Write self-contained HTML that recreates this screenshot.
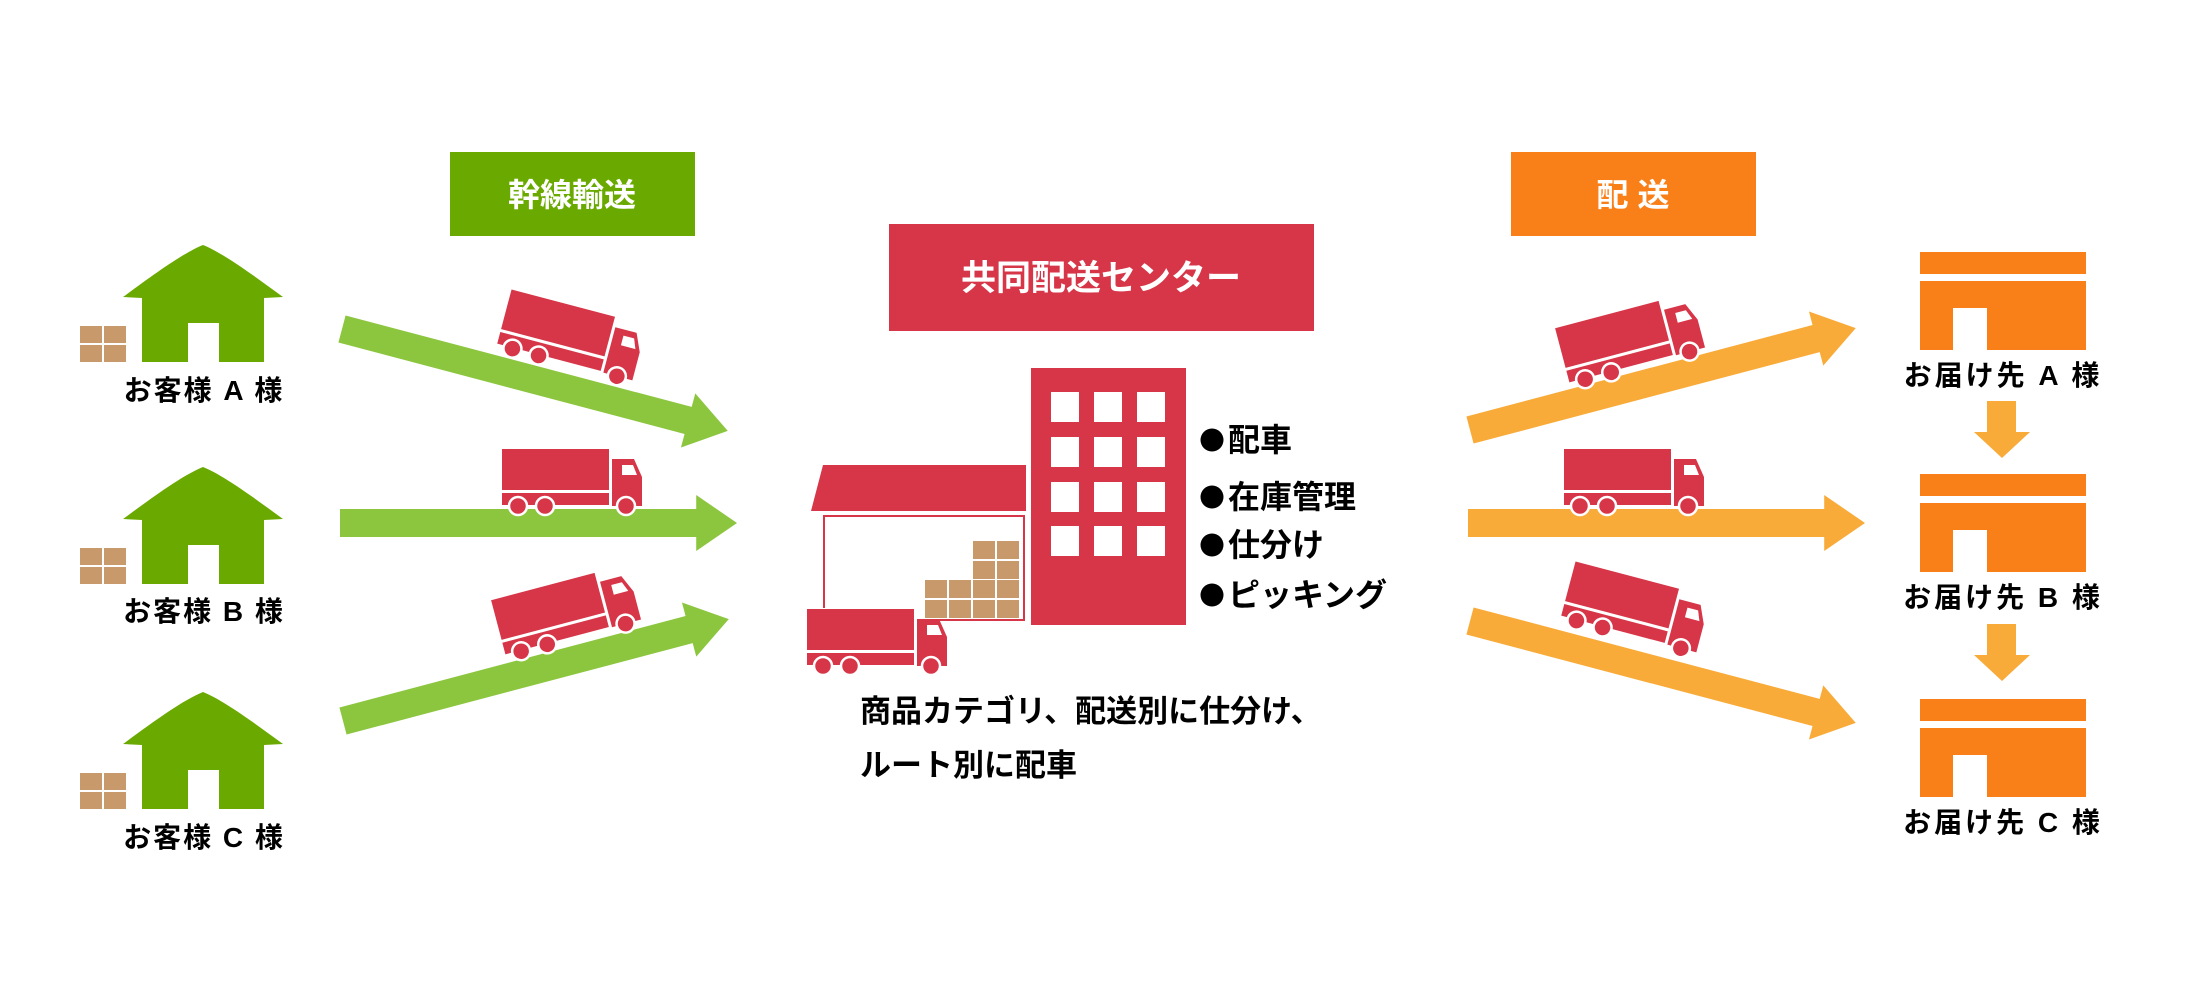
<!DOCTYPE html>
<html><head><meta charset="utf-8"><style>
html,body{margin:0;padding:0;background:#fff;}
svg{display:block;}
text{font-family:"Liberation Sans","Noto Sans CJK JP",sans-serif;font-weight:bold;}
</style></head><body>
<svg width="2200" height="1000" viewBox="0 0 2200 1000" xmlns="http://www.w3.org/2000/svg">
<defs>
<g id="truck">
  <rect x="0" y="0" width="107" height="41" fill="#d63648"/>
  <rect x="0" y="44" width="107" height="12" fill="#d63648"/>
  <path d="M110 10 H132 L140 28 V57 H110 Z" fill="#d63648"/>
  <path d="M120 16 H131 L135 26 H120 Z" fill="#fff"/>
  <circle cx="16" cy="57" r="9" fill="#d63648" stroke="#fff" stroke-width="2.5"/>
  <circle cx="43" cy="57" r="9" fill="#d63648" stroke="#fff" stroke-width="2.5"/>
  <circle cx="124" cy="57" r="9" fill="#d63648" stroke="#fff" stroke-width="2.5"/>
</g>
<g id="house">
  <path d="M80 0 C100 8 130 30 160 52 L141 53 V117 H96 V78 H65 V117 H19 V53 L0 52 C30 30 60 8 80 0 Z" fill="#6aaa00"/>
  <g fill="#c8996a">
    <rect x="-43" y="81" width="22" height="17"/><rect x="-19" y="81" width="22" height="17"/>
    <rect x="-43" y="100" width="22" height="17"/><rect x="-19" y="100" width="22" height="17"/>
  </g>
</g>
<g id="dest">
  <rect x="0" y="0" width="166" height="22" fill="#f98019"/>
  <path d="M0 29 H166 V98 H67 V56 H33 V98 H0 Z" fill="#f98019"/>
</g>
<g id="ga"><path d="M0 -14 H358 V-28 L399 0 L358 28 V14 H0 Z" fill="#8cc63f"/></g>
<g id="oa"><path d="M0 -14 H358 V-28 L399 0 L358 28 V14 H0 Z" fill="#f9ab3a"/></g>
</defs>

<!-- header boxes -->
<rect x="450" y="152" width="245" height="84" fill="#6aaa00"/>
<text x="572" y="206" font-size="32" fill="#fff" text-anchor="middle">幹線輸送</text>
<rect x="889" y="224" width="425" height="107" fill="#d63648"/>
<text x="1101" y="290" font-size="35" fill="#fff" text-anchor="middle">共同配送センター</text>
<rect x="1511" y="152" width="245" height="84" fill="#f98019"/>
<text x="1633" y="206" font-size="32" fill="#fff" text-anchor="middle">配 送</text>

<!-- houses -->
<use href="#house" x="123" y="245"/>
<use href="#house" x="123" y="467"/>
<use href="#house" x="123" y="692"/>
<g font-size="28" letter-spacing="2" text-anchor="middle">
<text x="204" y="400">お客様 A 様</text>
<text x="204" y="621">お客様 B 様</text>
<text x="204" y="847">お客様 C 様</text>
</g>

<!-- green arrows -->
<use href="#ga" transform="translate(342,329) rotate(14.8)"/>
<use href="#ga" transform="translate(340,523) scale(0.995,1)"/>
<use href="#ga" transform="translate(343,721) rotate(-14.8)"/>
<use href="#truck" transform="translate(569,346) rotate(14.8) translate(-70,-40)"/>
<use href="#truck" x="502" y="449"/>
<use href="#truck" transform="translate(569,621) rotate(-14.8) translate(-70,-40)"/>

<!-- center -->
<rect x="1031" y="368" width="155" height="257" fill="#d63648"/>
<g fill="#fff">
  <rect x="1051" y="392" width="28" height="30"/><rect x="1094" y="392" width="28" height="30"/><rect x="1137" y="392" width="28" height="30"/>
  <rect x="1051" y="437" width="28" height="30"/><rect x="1094" y="437" width="28" height="30"/><rect x="1137" y="437" width="28" height="30"/>
  <rect x="1051" y="482" width="28" height="30"/><rect x="1094" y="482" width="28" height="30"/><rect x="1137" y="482" width="28" height="30"/>
  <rect x="1051" y="526" width="28" height="30"/><rect x="1094" y="526" width="28" height="30"/><rect x="1137" y="526" width="28" height="30"/>
</g>
<path d="M823 465 H1026 V511 H811 Z" fill="#d63648"/>
<path d="M824 608 V516 H1024 V620 H922" fill="none" stroke="#d63648" stroke-width="2"/>
<g fill="#c8996a">
  <rect x="925" y="580" width="22" height="18"/><rect x="949" y="580" width="22" height="18"/>
  <rect x="925" y="600" width="22" height="18"/><rect x="949" y="600" width="22" height="18"/>
  <rect x="973" y="580" width="22" height="18"/><rect x="997" y="580" width="22" height="18"/>
  <rect x="973" y="600" width="22" height="18"/><rect x="997" y="600" width="22" height="18"/>
  <rect x="973" y="541" width="22" height="18"/><rect x="997" y="541" width="22" height="18"/>
  <rect x="973" y="561" width="22" height="18"/><rect x="997" y="561" width="22" height="18"/>
</g>
<use href="#truck" x="807" y="609"/>
<g fill="#000">
  <circle cx="1212" cy="440" r="11.5"/>
  <circle cx="1212" cy="497" r="11.5"/>
  <circle cx="1212" cy="545" r="11.5"/>
  <circle cx="1212" cy="595" r="11.5"/>
</g>
<g font-size="32">
  <text x="1228" y="451">配車</text>
  <text x="1228" y="508">在庫管理</text>
  <text x="1228" y="556">仕分け</text>
  <text x="1228" y="606">ピッキング</text>
</g>
<g font-size="31">
  <text x="860" y="722">商品カテゴリ、配送別に仕分け、</text>
  <text x="860" y="776">ルート別に配車</text>
</g>

<!-- orange arrows -->
<use href="#oa" transform="translate(1470,430) rotate(-14.8)"/>
<use href="#oa" transform="translate(1468,523) scale(0.995,1)"/>
<use href="#oa" transform="translate(1470,621) rotate(14.8)"/>
<use href="#truck" transform="translate(1633,349) rotate(-14.8) translate(-70,-40)"/>
<use href="#truck" x="1564" y="449"/>
<use href="#truck" transform="translate(1633,618) rotate(14.8) translate(-70,-40)"/>

<!-- destinations -->
<use href="#dest" x="1920" y="252"/>
<use href="#dest" x="1920" y="474"/>
<use href="#dest" x="1920" y="699"/>
<g font-size="28" letter-spacing="3" text-anchor="middle">
<text x="2003" y="385">お届け先 A 様</text>
<text x="2003" y="607">お届け先 B 様</text>
<text x="2003" y="832">お届け先 C 様</text>
</g>
<path d="M1987 401 H2016 V432 H2030 L2002 458 L1974 432 H1987 Z" fill="#f9ab3a"/>
<path d="M1987 624 H2016 V655 H2030 L2002 681 L1974 655 H1987 Z" fill="#f9ab3a"/>
</svg>
</body></html>
